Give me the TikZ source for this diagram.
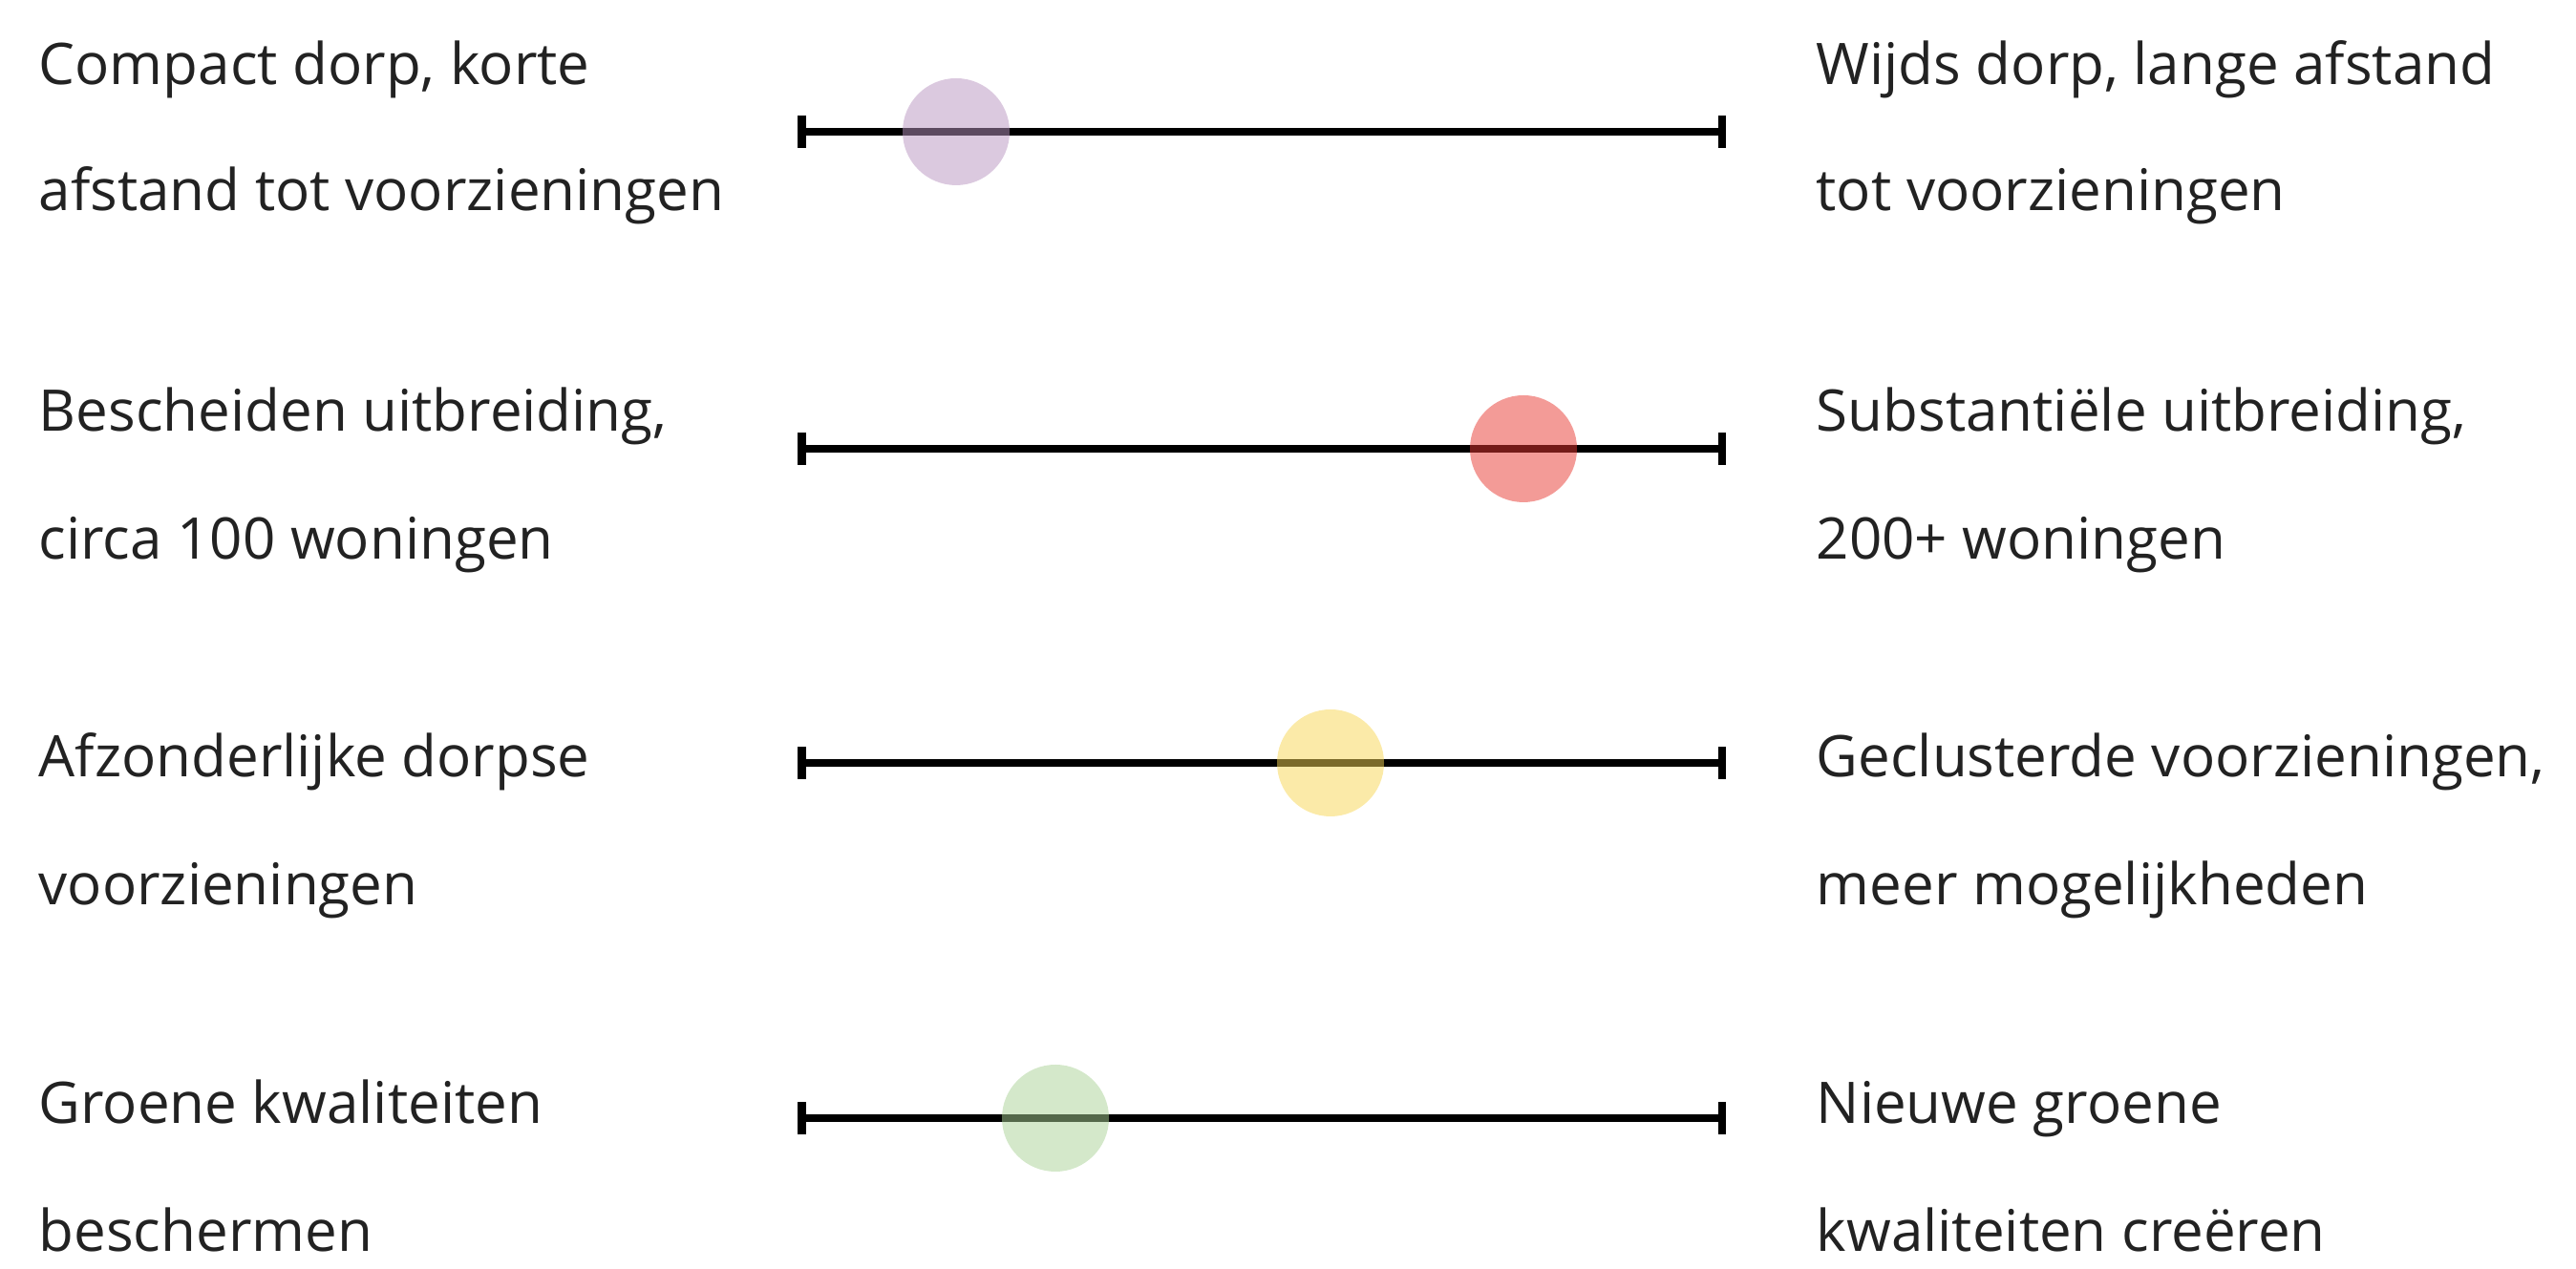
\documentclass[tikz,border=0pt]{standalone}
\usepackage{fontspec}
\setmainfont{Open Sans}
\usetikzlibrary{arrows.meta}
\definecolor{dotlila}{RGB}{184,148,192}
\definecolor{dotrood}{RGB}{231,55,48}
\definecolor{dotgeel}{RGB}{247,213,82}
\definecolor{dotgroen}{RGB}{169,209,149}
\definecolor{tekst}{RGB}{34,34,34}
\begin{document}
\begin{tikzpicture}[
  omschr/.style={anchor=base west,inner sep=0pt,text=tekst,font=\fontsize{17.1}{20}\selectfont},
  schaal/.style={line width=0.075cm,{Bar[width=0.34cm,line width=0.085cm]}-{Bar[width=0.34cm,line width=0.085cm]}},
  stip/.style={fill opacity=0.5}]
\useasboundingbox (0.,0.) rectangle (26.97,13.29);
% schaalbalken
\coordinate (s1l) at (8.35,11.91);
\coordinate (s1r) at (18.07,11.91);
\coordinate (s2l) at (8.35,8.59);
\coordinate (s2r) at (18.07,8.59);
\coordinate (s3l) at (8.35,5.30);
\coordinate (s3r) at (18.07,5.30);
\coordinate (s4l) at (8.35,1.58);
\coordinate (s4r) at (18.07,1.58);
\draw[schaal] (s1l)-- (s1r);
\draw[schaal] (s2l)-- (s2r);
\draw[schaal] (s3l)-- (s3r);
\draw[schaal] (s4l)-- (s4r);
% stippen
\fill[stip,dotlila] (10.01,11.91) circle (0.56);
\fill[stip,dotrood] (15.95,8.59) circle (0.56);
\fill[stip,dotgeel] (13.93,5.30) circle (0.56);
\fill[stip,dotgroen] (11.05,1.58) circle (0.56);
% teksten links
\node[omschr] (l1a) at (0.40,12.40) {Compact dorp, korte};
\node[omschr] (l1b) at (0.40,11.08) {afstand tot voorzieningen};
\node[omschr] (l2a) at (0.40,8.77) {Bescheiden uitbreiding,};
\node[omschr] (l2b) at (0.40,7.43) {circa 100 woningen};
\node[omschr] (l3a) at (0.40,5.15) {Afzonderlijke dorpse};
\node[omschr] (l3b) at (0.40,3.81) {voorzieningen};
\node[omschr] (l4a) at (0.40,1.52) {Groene kwaliteiten};
\node[omschr] (l4b) at (0.40,0.18) {beschermen};
% teksten rechts
\node[omschr] (r1a) at (19.01,12.40) {Wijds dorp, lange afstand};
\node[omschr] (r1b) at (19.01,11.08) {tot voorzieningen};
\node[omschr] (r2a) at (19.01,8.77) {Substantiële uitbreiding,};
\node[omschr] (r2b) at (19.01,7.43) {200+ woningen};
\node[omschr] (r3a) at (19.01,5.15) {Geclusterde voorzieningen,};
\node[omschr] (r3b) at (19.01,3.81) {meer mogelijkheden};
\node[omschr] (r4a) at (19.01,1.52) {Nieuwe groene};
\node[omschr] (r4b) at (19.01,0.18) {kwaliteiten creëren};
\end{tikzpicture}
\end{document}
